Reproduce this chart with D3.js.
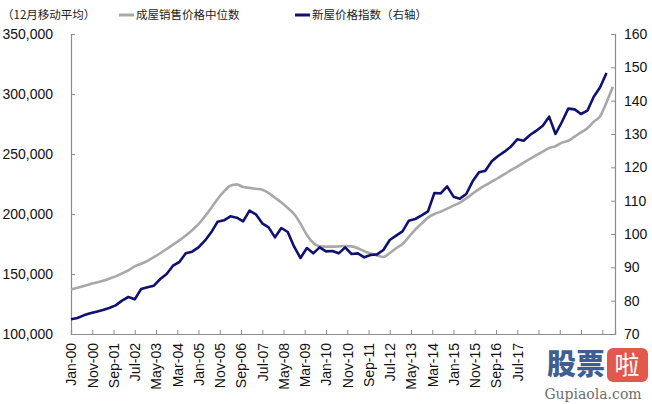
<!DOCTYPE html>
<html><head><meta charset="utf-8">
<script src="https://cdn.jsdelivr.net/npm/d3@7"></script>
<style>
html,body{margin:0;padding:0;background:#fff;}
svg{display:block;}
</style></head>
<body>
<svg id="chart" width="652" height="404"></svg>
<script>
// ---- data ----
// sample step in months for both series: one point per quarter starting Jan-2000
const stepMonths = 3;
// 成屋销售价格中位数 (12-month moving average, USD), left axis
const medianPrice = [
 137000,138500,140000,141500,143000,144300,146000,148000,150500,153000,
 156300,158500,161000,164000,167300,170800,174500,178000,182000,186500,
 191500,198000,205000,212500,218800,223500,224700,222500,221800,221000,
 220200,217500,213500,209500,205000,200000,192000,182500,176000,173000,
 172800,172800,173000,173300,173000,171500,169000,167000,165500,164200,
 167500,171500,175000,181000,187000,192000,197000,200000,202000,204500,
 207000,209500,213000,217000,220800,224000,227000,230000,233200,236500,
 239500,242800,246000,249000,252000,255000,256500,259500,261000,264500,
 268000,271500,276900,281500,293000,306000
];
// 新屋价格指数 (right axis), quarterly
const newHomeIndex = [
 74.4,74.8,75.6,76.2,76.7,77.2,77.8,78.6,80.0,81.1,
 80.4,83.5,84.0,84.5,86.5,88.0,90.5,91.6,94.2,94.7,
 96.0,98.0,100.5,103.7,104.1,105.3,104.9,103.8,107.0,105.9,
 103.2,102.0,99.0,101.8,100.6,96.2,92.8,95.8,94.2,96.0,
 94.8,94.9,94.2,96.0,94.0,94.2,93.0,93.7,93.9,95.2,
 98.2,99.5,100.8,104.0,104.5,105.6,106.8,112.3,112.2,114.3,
 111.2,110.6,112.0,115.8,118.5,119.0,121.8,123.4,124.7,126.2,
 128.4,128.0,129.7,131.0,132.5,135.2,130.0,133.6,137.6,137.4,
 136.0,137.0,141.2,144.0,148.3
];
const xTickLabels = ["Jan-00","Nov-00","Sep-01","Jul-02","May-03","Mar-04","Jan-05","Nov-05",
 "Sep-06","Jul-07","May-08","Mar-09","Jan-10","Nov-10","Sep-11","Jul-12","May-13","Mar-14",
 "Jan-15","Nov-15","Sep-16","Jul-17"];
const labelStepMonths = 10;
const leftTicks = [100000,150000,200000,250000,300000,350000];
const rightTicks = [70,80,90,100,110,120,130,140,150,160];
const seriesNames = ["成屋销售价格中位数","新屋价格指数（右轴）"];
const noteText = "（12月移动平均）";

// ---- layout ----
const L = 71, R = 615, T = 34, B = 334;
const svg = d3.select("#chart");
const x = d3.scaleLinear().domain([0,256]).range([L,R]);
const yL = d3.scaleLinear().domain([100000,350000]).range([B,T]);
const yR = d3.scaleLinear().domain([70,160]).range([B,T]);
const axisColor = "#8c8c8c";
const grayColor = "#a8a8a8";
const blueColor = "#101070";
const tickFont = "'Liberation Sans', Arial, sans-serif";
const cjkFont = "'Noto Sans CJK SC', sans-serif";

// left axis
const gL = svg.append("g").attr("transform",`translate(${L},0)`)
  .call(d3.axisLeft(yL).tickValues(leftTicks).tickSize(-4).tickPadding(18)
    .tickFormat(d3.format(",")));
// right axis
const gR = svg.append("g").attr("transform",`translate(${R},0)`)
  .call(d3.axisRight(yR).tickValues(rightTicks).tickSize(-4).tickPadding(9));
// bottom axis
const bottomTicks = d3.range(0, 251, labelStepMonths);
const gB = svg.append("g").attr("transform",`translate(0,${B})`)
  .call(d3.axisBottom(x).tickValues(bottomTicks).tickSize(-4)
    .tickFormat((d,i)=> xTickLabels[i] || ""));
gB.selectAll("text")
  .attr("transform","rotate(-90)")
  .attr("text-anchor","end")
  .attr("x",-9).attr("y",0).attr("dy","0.35em");

[gL,gR,gB].forEach(g=>{
  g.select(".domain").attr("stroke",axisColor).attr("stroke-width",1.2);
  g.selectAll(".tick line").attr("stroke",axisColor).attr("stroke-width",1);
  g.selectAll("text").attr("font-family",tickFont).attr("font-size",14).attr("fill","#111");
});
gL.selectAll("text").attr("text-anchor","end");

// lines
const grayData = medianPrice.map((v,i)=>({m:i*stepMonths, v}));
const blueData = newHomeIndex.map((v,i)=>({m:i*stepMonths, v}));
svg.append("path").datum(grayData)
  .attr("fill","none").attr("stroke",grayColor).attr("stroke-width",2.6)
  .attr("stroke-linejoin","round")
  .attr("d", d3.line().x(d=>x(d.m)).y(d=>yL(d.v)).curve(d3.curveMonotoneX));
svg.append("path").datum(blueData)
  .attr("fill","none").attr("stroke",blueColor).attr("stroke-width",2.6)
  .attr("stroke-linejoin","round")
  .attr("d", d3.line().x(d=>x(d.m)).y(d=>yR(d.v)));

// legend
const leg = svg.append("g").attr("font-family",cjkFont).attr("font-size",11.5).attr("fill","#222");
leg.append("text").attr("x",2).attr("y",15).attr("dy","0.35em").text(noteText);
leg.append("line").attr("x1",119).attr("x2",134).attr("y1",15).attr("y2",15)
  .attr("stroke",grayColor).attr("stroke-width",3);
leg.append("text").attr("x",136).attr("y",15).attr("dy","0.35em").text(seriesNames[0]);
leg.append("line").attr("x1",295).attr("x2",310).attr("y1",15).attr("y2",15)
  .attr("stroke",blueColor).attr("stroke-width",3);
leg.append("text").attr("x",312).attr("y",15).attr("dy","0.35em").text(seriesNames[1]);

// watermark
const wm = svg.append("g");
wm.append("rect").attr("x",607).attr("y",348).attr("width",41).attr("height",34).attr("rx",6).attr("fill","#e2584c");
wm.append("text").attr("x",576).attr("y",375).attr("text-anchor","middle")
  .attr("font-family",cjkFont).attr("font-weight",900).attr("font-size",29).attr("fill","#3f5f93").text("股票");
wm.append("text").attr("x",627).attr("y",374).attr("text-anchor","middle")
  .attr("font-family",cjkFont).attr("font-size",25).attr("fill","#fff").text("啦");
wm.append("text").attr("x",593).attr("y",399).attr("text-anchor","middle")
  .attr("font-family","'DejaVu Serif', serif").attr("font-size",14).attr("fill","#6d6d6d").text("Gupiaola.com");
</script>
</body></html>
